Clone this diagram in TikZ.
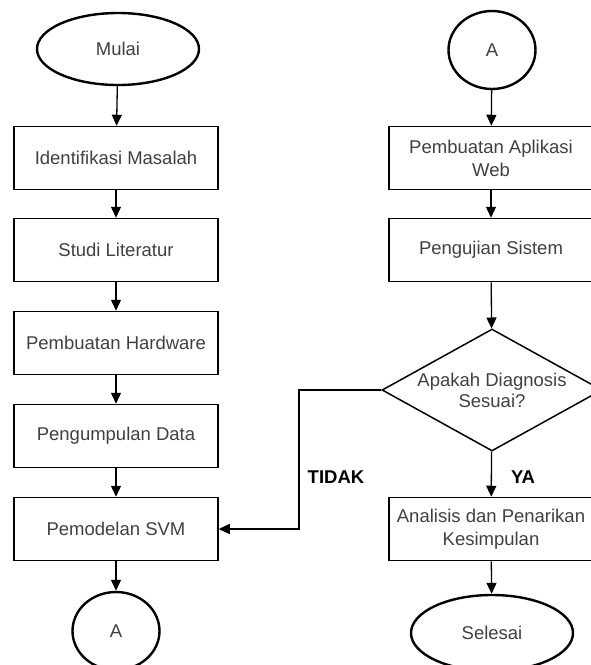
\documentclass[tikz,border=0pt]{standalone}
\usepackage{fontspec}
\setmainfont{Liberation Sans}
\usetikzlibrary{shapes,arrows.meta}
\definecolor{teks}{rgb}{0.25, 0.25, 0.25}
\tikzstyle{proses}=[draw,rectangle,line width=1.5pt,minimum width=204pt,minimum height=63pt,align=center,text=teks,font=\fontsize{18.5}{23}\selectfont]
\tikzstyle{terminal}=[draw,ellipse,line width=2.4pt,minimum width=162pt,minimum height=72pt,inner sep=0pt,text=teks,font=\fontsize{18.5}{23}\selectfont]
\tikzstyle{konektor}=[draw,ellipse,line width=2.4pt,minimum width=87pt,minimum height=78pt,inner sep=0pt,text=teks,font=\fontsize{18.5}{23}\selectfont]
\tikzstyle{keputusan}=[draw,diamond,line width=1.5pt,aspect=1.8,inner sep=1pt,minimum width=220pt,minimum height=122pt,align=center,text=teks,font=\fontsize{18.5}{21}\selectfont]
\tikzstyle{alur}=[line width=1.3pt,-{Triangle[length=11pt,width=10pt]}]
\tikzstyle{ket}=[font=\bfseries\fontsize{18.5}{23}\selectfont]

\begin{document}
\begin{tikzpicture}[x=1pt,y=-1pt]
\useasboundingbox (0,0) rectangle (591,665);

% kolom kiri
\node[terminal] (mulai) at (118, 49) {Mulai};
\node[proses] (masalah) at (116, 158) {Identifikasi Masalah};
\node[proses] (studi) at (116, 250) {Studi Literatur};
\node[proses] (hardware) at (116, 343) {Pembuatan Hardware};
\node[proses] (data) at (116, 436) {Pengumpulan Data};
\node[proses] (svm) at (116, 529) {Pemodelan SVM};
\node[konektor] (a1) at (116, 631) {A};

% kolom kanan
\node[konektor] (a2) at (492, 50) {A};
\node[proses] (web) at (491, 158) {Pembuatan Aplikasi\\Web};
\node[proses] (uji) at (491, 250) {Pengujian Sistem};
\node[keputusan] (diag) at (492, 390) {Apakah Diagnosis\\Sesuai?};
\node[proses] (analisis) at (491, 529) {Analisis dan Penarikan\\Kesimpulan};
\node[terminal, minimum height=76pt] (selesai) at (492, 633) {Selesai};

\coordinate (belok) at (299, 390);
\node[ket] (tidak) at (336, 477) {TIDAK};
\node[ket] (ya) at (523, 477) {YA};

\draw[alur] (mulai) -- (masalah);
\draw[alur] (masalah) -- (studi);
\draw[alur] (studi) -- (hardware);
\draw[alur] (hardware) -- (data);
\draw[alur] (data) -- (svm);
\draw[alur] (svm) -- (a1);

\draw[alur] (a2) -- (web);
\draw[alur] (web) -- (uji);
\draw[alur] (uji) -- (diag);
\draw[alur] (diag) -- (analisis);
\draw[alur] (analisis) -- (selesai);
\draw[alur] (diag.west) -- (belok) |- (svm);

\end{tikzpicture}
\end{document}
